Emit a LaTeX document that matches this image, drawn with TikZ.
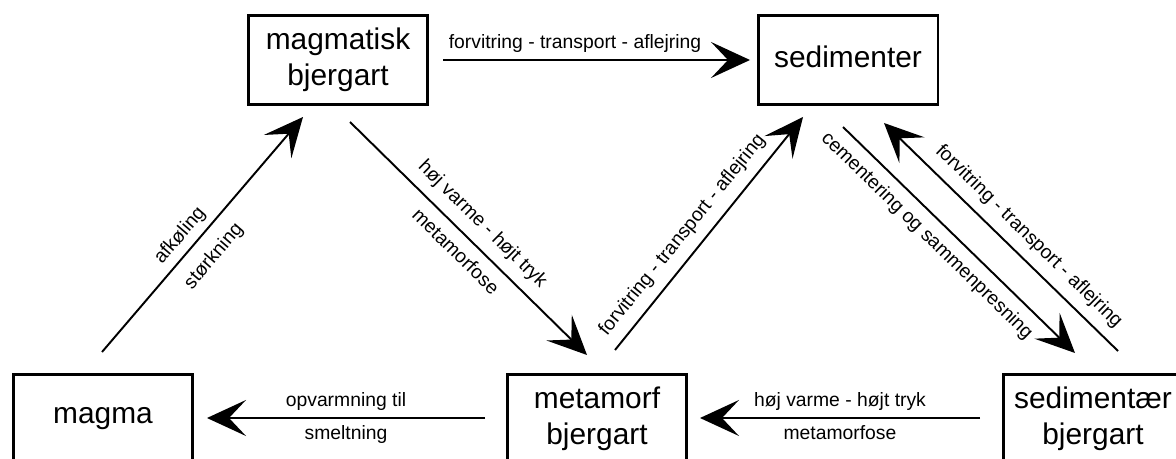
\documentclass[tikz,border=0pt]{standalone}
\usepackage{fontspec}
\setmainfont{Liberation Sans}
\usetikzlibrary{arrows.meta,calc}

\begin{document}
\begin{tikzpicture}[
  x=0.02cm,y=-0.02cm,
  >={Stealth[length=7.8mm,width=7.2mm,inset=3.4mm]},
  rockbox/.style={draw,line width=1.7pt,minimum width=3.6cm,minimum height=1.78cm,inner sep=0pt,align=center,font=\fontsize{17}{20.5}\selectfont},
  lbl/.style={font=\fontsize{11}{12}\selectfont,inner sep=3.5pt},
  ar/.style={->,line width=1.1pt}
]
\useasboundingbox (0,0) rectangle (1176,459);
\clip (0,0) rectangle (1176,459);

% TOP: magmatisk bjergart and sedimenter
\node[rockbox] (magmatisk) at (338,60) {magmatisk\\bjergart};
\node[rockbox,text depth=0.35em] (sedimenter) at (848,60) {sedimenter};

% BOTTOM: magma, metamorf and sedimentaer (cut by the lower edge)
\node[rockbox] (magma) at (103,419) {magma};
\node[rockbox] (metamorf) at (597,419) {metamorf\\bjergart};
\node[rockbox] (sedimentaer) at (1093,419) {sedimentær\\bjergart};

% top arrow
\draw[ar] ($(magmatisk)+(105,0)$) -- node[lbl,above,pos=0.43]{forvitring - transport - aflejring} ($(sedimenter)+(-98,0)$);

% left triangle
\draw[ar] ($(magma)+(-1,-67)$) -- node[lbl,sloped,above,pos=0.45]{afkøling} node[lbl,sloped,below=4pt,pos=0.47]{størkning} ($(magmatisk)+(-35,57)$);
\draw[ar] ($(magmatisk)+(12,62)$) -- node[lbl,sloped,above=2pt]{høj varme - højt tryk} node[lbl,sloped,below=2pt]{metamorfose} ($(metamorf)+(-10,-64)$);
\draw[ar] ($(metamorf)+(-112,-1)$) -- node[lbl,above]{opvarmning til} node[lbl,below]{smeltning} ($(magma)+(104,-1)$);

% right triangle
\draw[ar] ($(metamorf)+(18,-69)$) -- node[lbl,sloped,above=2pt,pos=0.44]{forvitring - transport - aflejring} ($(sedimenter)+(-45,57)$);
\draw[ar] ($(sedimenter)+(-5,67)$) -- node[lbl,sloped,below=2pt,pos=0.42]{cementering og sammenpresning} ($(sedimentaer)+(-18,-66)$);
\draw[ar] ($(sedimentaer)+(25,-68)$) -- node[lbl,sloped,above=2pt,pos=0.44]{forvitring - transport - aflejring} ($(sedimenter)+(36,63)$);
\draw[ar] ($(sedimentaer)+(-113,-1)$) -- node[lbl,above]{høj varme - højt tryk} node[lbl,below]{metamorfose} ($(metamorf)+(103,-1)$);
\end{tikzpicture}
\end{document}
